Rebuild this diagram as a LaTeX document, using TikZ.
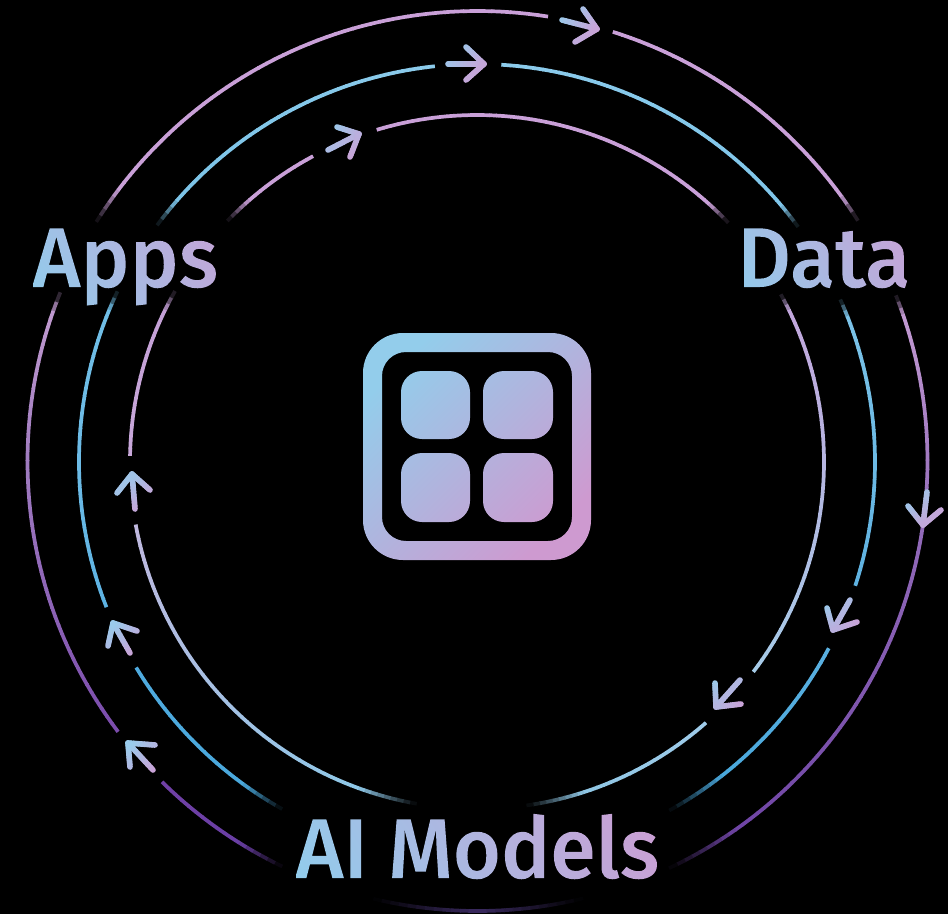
\documentclass[tikz,border=0pt]{standalone}
\usepackage{fontspec}
\setmainfont{Open Sans}
\newfontfamily\labfont[FakeStretch=0.97]{Fira Sans Medium}
\usetikzlibrary{calc}
\definecolor{arrowblue}{HTML}{98CCEC}
\definecolor{arrowpink}{HTML}{CDA0D6}
\definecolor{iconblue}{HTML}{93CDEB}
\definecolor{iconpink}{HTML}{CE9AD0}
% gradient for texts: t = ax*x + ay*y, from blue to pink
\pgfdeclarefunctionalshading{gradapps}{\pgfpointorigin}{\pgfpoint{210bp}{110bp}}{}{
  0.0025 mul exch 0.0036 mul add
  dup dup 0.24 mul 0.56 add 3 1 roll -0.19 mul 0.81 add exch -0.10 mul 0.93 add}
\pgfdeclarefunctionalshading{graddata}{\pgfpointorigin}{\pgfpoint{210bp}{110bp}}{}{
  0.0025 mul exch 0.0042 mul add
  dup dup 0.24 mul 0.56 add 3 1 roll -0.19 mul 0.81 add exch -0.10 mul 0.93 add}
\pgfdeclarefunctionalshading{gradmodels}{\pgfpointorigin}{\pgfpoint{400bp}{110bp}}{}{
  0.0016 mul exch 0.0024 mul add
  dup dup 0.24 mul 0.56 add 3 1 roll -0.19 mul 0.81 add exch -0.10 mul 0.93 add}
\newcommand{\gradtext}[2]{% shading name, text
  \special{pdf:code q 7 Tr}\rlap{\labfont\fontsize{85}{85}\selectfont #2}%
  \rlap{\smash{\raisebox{-28bp}{\pgfuseshading{#1}}}}%
  \special{pdf:code 0 Tr Q}}
% ring piece: centre, radius, from angle, to angle, colour from, colour to (hex)
\newcommand{\seg}[6]{%
  \definecolor{segA}{HTML}{#5}\definecolor{segB}{HTML}{#6}%
  \pgfmathtruncatemacro{\nseg}{max(2,ceil(abs(#4-#3)/1.2))}%
  \foreach \k in {1,...,\nseg}{%
    \pgfmathsetmacro{\aa}{#3+(#4-#3)*(\k-1)/\nseg}%
    \pgfmathsetmacro{\ab}{#3+(#4-#3)*\k/\nseg+(#4-#3)*0.1/\nseg}%
    \pgfmathsetmacro{\tt}{100*(\k-0.5)/\nseg}%
    \draw[ringline,draw={segB!\tt!segA}] ($(#1)+(\aa:#2pt)$) arc[start angle=\aa,end angle=\ab,radius=#2pt];
  }}
% arrow stroke with a top-left to bottom-right gradient; first two arguments: arrow centre
\newcommand{\arrstroke}[6]{%
  \foreach \k in {1,...,10}{%
    \pgfmathsetmacro{\xa}{#3+(#5-#3)*(\k-1)/10}%
    \pgfmathsetmacro{\ya}{#4+(#6-#4)*(\k-1)/10}%
    \pgfmathsetmacro{\xb}{#3+(#5-#3)*\k/10}%
    \pgfmathsetmacro{\yb}{#4+(#6-#4)*\k/10}%
    \pgfmathsetmacro{\tt}{max(0,min(100,50+1.9*((\xa+\xb)/2-#1+(\ya+\yb)/2-#2)))}%
    \draw[arrowline,draw={arrowpink!\tt!arrowblue}] (\xa,-\ya) -- (\xb,-\yb);
  }}
\newcommand{\flowarrow}[8]{% tail x y, tip x y, barb1 x y, barb2 x y
  \pgfmathsetmacro{\cxx}{(#1+#3+#5+#7)/4}%
  \pgfmathsetmacro{\cyy}{(#2+#4+#6+#8)/4}%
  \arrstroke{\cxx}{\cyy}{#1}{#2}{#3}{#4}%
  \arrstroke{\cxx}{\cyy}{#5}{#6}{#3}{#4}%
  \arrstroke{\cxx}{\cyy}{#7}{#8}{#3}{#4}}
\tikzset{
  ringline/.style={line width=3.7pt,line cap=butt},
  arrowline/.style={line width=5.6pt,line cap=round},
  label/.style={anchor=base west,inner sep=0pt,outer sep=0pt},
}
\begin{document}
\begin{tikzpicture}[x=1pt,y=1pt]
\useasboundingbox (0,0) rectangle (948,-914);
\fill[black] (0,0) rectangle (948,-914);
\coordinate (co) at (477.5,-461);
\coordinate (cm) at (477,-462);
% outer ring
\seg{co}{450}{147.9}{143}{000000}{C9A0D8}
\seg{co}{450}{143}{81.1}{C9A0D8}{C9A0D8}
\seg{co}{450}{72.5}{36}{C9A0D8}{C9A0D8}
\seg{co}{450}{36}{32.4}{C9A0D8}{000000}
\seg{co}{450}{21.6}{19}{000000}{C29AD2}
\seg{co}{450}{19}{-10.4}{C29AD2}{9068B8}
\seg{co}{450}{-10.4}{-55}{9068B8}{6F45A5}
\seg{co}{450}{-55}{-64.7}{6F45A5}{000000}
\seg{co}{450}{-103.4}{-90}{000000}{3A2A60}
\seg{co}{450}{-90}{-76.5}{3A2A60}{000000}
\seg{co}{450}{-115.7}{-122}{000000}{6A3FA5}
\seg{co}{450}{-122}{-134.4}{6A3FA5}{7040A5}
\seg{co}{450}{217}{180}{7A4BAC}{A07CC0}
\seg{co}{450}{180}{160.5}{A07CC0}{C09ACF}
\seg{co}{450}{160.5}{158.1}{C09ACF}{000000}
% middle ring
\seg{cm}{398}{143.5}{139}{000000}{7CC4E8}
\seg{cm}{398}{139}{96.2}{7CC4E8}{8CCBEB}
\seg{cm}{398}{86.5}{40}{8CCBEB}{80C6EA}
\seg{cm}{398}{40}{36.3}{80C6EA}{000000}
\seg{cm}{398}{24.1}{21.5}{000000}{7CC3E8}
\seg{cm}{398}{21.5}{-18}{7CC3E8}{5FB2E1}
\seg{cm}{398}{-27.9}{-52}{5AB0E0}{4AA8DC}
\seg{cm}{398}{-52}{-61}{4AA8DC}{000000}
\seg{cm}{398}{-119.3}{-126}{000000}{4AA8DC}
\seg{cm}{398}{-126}{-148.8}{4AA8DC}{4FAADE}
\seg{cm}{398}{201.4}{180}{5DB2E2}{6DBBE6}
\seg{cm}{398}{180}{157.5}{6DBBE6}{70BEE6}
\seg{cm}{398}{157.5}{154.7}{70BEE6}{000000}
% inner ring
\seg{cm}{347}{136}{131}{000000}{C9A0D8}
\seg{cm}{347}{131}{118.3}{C9A0D8}{C9A0D8}
\seg{cm}{347}{106.8}{48}{C9A0D8}{C9A0D8}
\seg{cm}{347}{48}{43.7}{C9A0D8}{000000}
\seg{cm}{347}{28.9}{26}{000000}{C2A6DC}
\seg{cm}{347}{26}{-37.1}{C2A6DC}{A6CCE8}
\seg{cm}{347}{-48.7}{-72}{A0CCEA}{8FC6E4}
\seg{cm}{347}{-72}{-81.7}{8FC6E4}{000000}
\seg{cm}{347}{-100}{-110}{000000}{8FC8E8}
\seg{cm}{347}{-110}{-169.5}{8FC8E8}{BFB8DE}
\seg{cm}{347}{179}{154}{C8A8DA}{C4A0D6}
\seg{cm}{347}{154}{150.6}{C4A0D6}{000000}
% arrows
\flowarrow{562}{20}{597}{29}{583}{9}{575}{42}
\flowarrow{448}{64}{484}{64}{466}{47}{466}{80}
\flowarrow{328}{150}{359}{134}{337}{127}{350}{157}
\flowarrow{927}{492}{923}{525}{908}{506}{941}{510}
\flowarrow{850}{600}{833}{630}{827}{608}{857}{622}
\flowarrow{740}{680}{716}{707}{715}{683}{741}{704}
\flowarrow{135}{509}{132}{474}{117}{493}{150}{490}
\flowarrow{130}{653}{113}{623}{137}{631}{108}{646}
\flowarrow{153}{770}{128}{743}{155}{745}{130}{767}
% icon
\shade[even odd rule,top color=iconblue,bottom color=iconpink,shading angle=45]
  [rounded corners=40pt] (363,-333) rectangle (591,-560)
  [rounded corners=24pt] (382,-352) rectangle (572,-541)
  [rounded corners=21pt] (401,-371) rectangle (470,-439)
  (483,-371) rectangle (553,-439)
  (401,-453) rectangle (470,-522)
  (483,-453) rectangle (553,-522);
% labels
\node[label] (apps) at (32,-287) {\gradtext{gradapps}{Apps}};
\node[label] (data) at (737,-287) {\gradtext{graddata}{Data}};
\node[label] (models) at (295,-878) {\gradtext{gradmodels}{AI Models}};
\end{tikzpicture}
\end{document}
